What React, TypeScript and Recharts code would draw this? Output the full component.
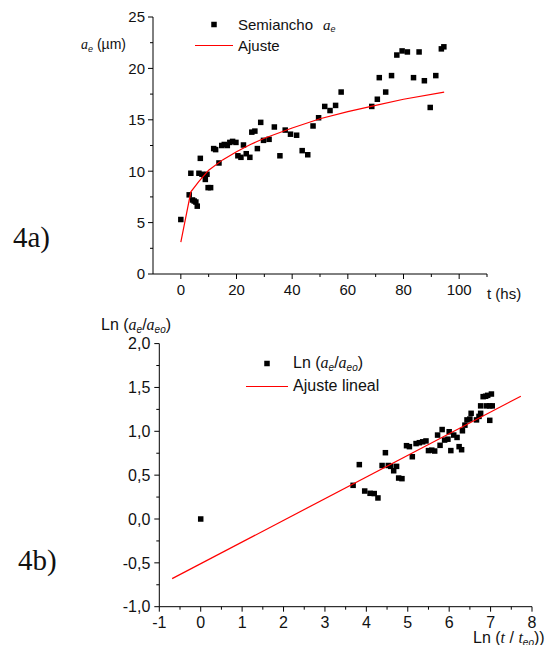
import { ScatterChart, Scatter, XAxis, YAxis, Legend } from "recharts";

// 4a) half-width vs time
const hours = [
  0, 3.0, 3.6, 4.2, 4.8, 5.4, 5.9, 6.5, 7.0, 7.6, 8.4, 8.8, 9.4, 9.8, 10.7, 11.8, 12.5, 13.7, 14.7, 15.6,
  16.7, 17.6, 18.6, 19.8, 20.5, 21.6, 22.5, 23.5, 24.8, 25.5, 26.6, 27.5, 28.7, 29.7, 31.7, 33.6, 35.6,
  37.5, 39.4, 41.6, 43.6, 45.6, 47.5, 49.5, 51.7, 53.6, 55.6, 57.6, 68.6, 70.6, 71.3, 73.6, 75.7, 77.6,
  79.5, 81.4, 83.6, 85.6, 87.5, 89.6, 91.6, 93.6, 94.5,
];
const halfWidth = [
  5.3, 7.7, 9.8, 7.2, 7.1, 7.0, 6.6, 9.8, 11.25, 9.7, 9.6, 9.2, 9.7, 8.4, 8.4, 12.2, 12.1, 10.8, 12.5, 12.6,
  12.5, 12.8, 12.9, 12.8, 11.5, 11.35, 12.55, 11.7, 11.35, 13.8, 13.9, 12.2, 14.75, 13.0, 13.1, 14.3, 11.5,
  14.0, 13.6, 13.5, 12.0, 11.6, 14.4, 15.2, 16.3, 15.9, 16.4, 17.7, 16.3, 17.0, 19.1, 17.7, 19.3, 21.3,
  21.7, 21.6, 19.1, 21.6, 18.8, 16.2, 19.3, 21.9, 22.1,
];
const fitHours = [0, 3.6, 6.5, 10, 15, 20, 25, 30, 40, 50, 60, 70, 80, 94.6];
const fitWidth = [3.1, 8.0, 9.0, 10.1, 11.1, 11.9, 12.6, 13.2, 14.2, 15.1, 15.8, 16.4, 17.0, 17.7];

// 4b) log-log
const lnTime = [
  0, 3.68, 3.83, 3.96, 4.09, 4.19, 4.28, 4.38, 4.46, 4.53, 4.59, 4.66, 4.73, 4.78, 4.86, 4.97, 5.04, 5.11,
  5.2, 5.28, 5.36, 5.44, 5.5, 5.58, 5.65, 5.72, 5.78, 5.83, 5.89, 5.97, 6.0, 6.04, 6.11, 6.19, 6.24, 6.3,
  6.32, 6.38, 6.43, 6.5, 6.53, 6.66, 6.72, 6.76, 6.76, 6.82, 6.88, 6.9, 6.93, 6.98, 6.98, 7.02, 7.04,
];
const lnRatio = [
  0, 0.384, 0.62, 0.319, 0.293, 0.29, 0.24, 0.61, 0.756, 0.61, 0.6, 0.55, 0.6, 0.467, 0.46, 0.836, 0.825, 0.71,
  0.86, 0.87, 0.88, 0.89, 0.78, 0.785, 0.775, 0.957, 0.84, 1.02, 0.9, 0.91, 0.995, 0.78, 0.957, 0.93, 0.825, 0.79,
  1.006, 1.07, 1.13, 1.14, 1.205, 1.13, 1.17, 1.205, 1.29, 1.395, 1.4, 1.29, 1.41, 1.29, 1.125, 1.425, 1.29,
];
const linearX = [-0.69, 7.73];
const linearY = [-0.68, 1.4];

const hourMajors = [0, 20, 40, 60, 80, 100];
const hourMinors = [10, 30, 50, 70, 90, 110];
const widthMajors = [0, 5, 10, 15, 20, 25];
const widthMinors = [2.5, 7.5, 12.5, 17.5, 22.5];
const lnTimeMajors = [-1, 0, 1, 2, 3, 4, 5, 6, 7, 8];
const lnTimeMinors = [-0.5, 0.5, 1.5, 2.5, 3.5, 4.5, 5.5, 6.5, 7.5];
const lnRatioMajors = [-1, -0.5, 0, 0.5, 1, 1.5, 2];
const lnRatioMinors = [-0.75, -0.25, 0.25, 0.75, 1.25, 1.75];

const scatterA = hours.map((t, i) => ({ x: t, y: halfWidth[i] }));
const fitA = fitHours.map((t, i) => ({ x: t, y: fitWidth[i] }));
const scatterB = lnTime.map((t, i) => ({ x: t, y: lnRatio[i] }));
const fitB = linearX.map((t, i) => ({ x: t, y: linearY[i] }));

const SANS = "'Liberation Sans', Arial, sans-serif";
const SERIF = "'Liberation Serif', 'Times New Roman', serif";
const RED = "#ff0000";

const Square = (props: any) => (
  <rect x={props.cx - 2.75} y={props.cy - 2.75} width={5.5} height={5.5} fill="#000" />
);
const NoDot = () => <g />;

const commaFmt = (v: number) => v.toFixed(1).replace(".", ",");

function makeXTick(majors: number[], fontSize: number, base: number, fmt: (v: number) => string) {
  return (props: any) => {
    const { x, y, payload } = props;
    const major = majors.includes(payload.value);
    return (
      <g>
        <line x1={x} y1={y} x2={x} y2={y + (major ? 5 : 3)} stroke="#000" />
        {major && (
          <text x={x} y={y + base} textAnchor="middle" fontSize={fontSize} fontFamily={SANS} fill="#111">
            {fmt(payload.value)}
          </text>
        )}
      </g>
    );
  };
}

function makeYTick(majors: number[], fontSize: number, gap: number, fmt: (v: number) => string) {
  return (props: any) => {
    const { x, y, payload } = props;
    const major = majors.includes(payload.value);
    return (
      <g>
        <line x1={x - (major ? 5 : 3)} y1={y} x2={x} y2={y} stroke="#000" />
        {major && (
          <text x={x - gap} y={y + fontSize * 0.36} textAnchor="end" fontSize={fontSize} fontFamily={SANS} fill="#111">
            {fmt(payload.value)}
          </text>
        )}
      </g>
    );
  };
}

const Sub = ({ children, size }: { children: any; size: number }) => (
  <span style={{ fontSize: size, position: "relative", top: "0.3em", fontStyle: "italic", fontFamily: SANS }}>
    {children}
  </span>
);
const Ita = ({ children }: { children: any }) => (
  <span style={{ fontFamily: SERIF, fontStyle: "italic" }}>{children}</span>
);

type KeyRow = { kind: "dot" | "line"; label: any };

function makeKey(rows: KeyRow[], keyWidth: number, rowHeight: number, fontSize: number) {
  return () => (
    <div style={{ fontFamily: SANS, fontSize, color: "#111" }}>
      {rows.map((r, i) => (
        <div key={i} style={{ display: "flex", alignItems: "center", height: rowHeight, whiteSpace: "nowrap" }}>
          <svg width={keyWidth} height={rowHeight} style={{ marginRight: 5 }}>
            {r.kind === "dot" ? (
              <rect x={keyWidth / 2 - 2.75} y={rowHeight / 2 - 2.75} width={5.5} height={5.5} fill="#000" />
            ) : (
              <line x1={0} y1={rowHeight / 2} x2={keyWidth} y2={rowHeight / 2} stroke={RED} strokeWidth={1.2} />
            )}
          </svg>
          <span style={{ lineHeight: 1 }}>{r.label}</span>
        </div>
      ))}
    </div>
  );
}

const keyA = makeKey(
  [
    {
      kind: "dot",
      label: (
        <>
          Semiancho
          <span style={{ marginLeft: 10, fontSize: 15 }}>
            <Ita>a</Ita>
            <Sub size={9}>e</Sub>
          </span>
        </>
      ),
    },
    { kind: "line", label: "Ajuste" },
  ],
  38,
  21,
  15
);

const keyB = makeKey(
  [
    {
      kind: "dot",
      label: (
        <>
          Ln (<Ita>a</Ita>
          <Sub size={10}>e</Sub>/<Ita>a</Ita>
          <Sub size={10}>eo</Sub>)
        </>
      ),
    },
    { kind: "line", label: "Ajuste lineal" },
  ],
  42,
  23,
  16
);

const abs = (left: number, top: number, fontSize: number, family = SANS): any => ({
  position: "absolute",
  left,
  top,
  fontSize,
  fontFamily: family,
  lineHeight: 1,
  whiteSpace: "nowrap",
  color: "#111",
});

export default function App() {
  return (
    <div style={{ position: "absolute", left: 0, top: 0, width: 553, height: 645, background: "#fff", overflow: "hidden" }}>
      <div style={{ position: "absolute", left: 0, top: 0 }}>
        <ScatterChart width={553} height={300} margin={{ top: 17, right: 66, bottom: 0, left: 0 }}>
          <XAxis
            type="number"
            dataKey="x"
            domain={[-10, 110]}
            ticks={[...hourMajors, ...hourMinors].sort((a, b) => a - b)}
            interval={0}
            height={26}
            tickSize={0}
            tickMargin={0}
            tickLine={false}
            axisLine={{ stroke: "#000" }}
            tick={makeXTick(hourMajors, 15, 21, (v) => String(v))}
          />
          <YAxis
            type="number"
            dataKey="y"
            domain={[0, 25]}
            ticks={[...widthMajors, ...widthMinors].sort((a, b) => a - b)}
            interval={0}
            width={153}
            tickSize={0}
            tickMargin={0}
            tickLine={false}
            axisLine={{ stroke: "#000" }}
            tick={makeYTick(widthMajors, 15, 8, (v) => String(v))}
          />
          <Legend
            layout="vertical"
            align="center"
            verticalAlign="middle"
            content={keyA}
            wrapperStyle={{ left: 195, top: 14, width: "auto" }}
          />
          <Scatter data={scatterA} shape={Square} isAnimationActive={false} legendType="square" />
          <Scatter
            data={fitA}
            shape={NoDot}
            line={{ stroke: RED, strokeWidth: 1.2 }}
            lineType="joint"
            isAnimationActive={false}
          />
        </ScatterChart>
      </div>

      <div style={{ position: "absolute", left: 0, top: 320 }}>
        <ScatterChart width={553} height={325} margin={{ top: 23.6, right: 21, bottom: 0, left: 0 }}>
          <XAxis
            type="number"
            dataKey="x"
            domain={[-1, 8]}
            ticks={[...lnTimeMajors, ...lnTimeMinors].sort((a, b) => a - b)}
            interval={0}
            height={38.3}
            tickSize={0}
            tickMargin={0}
            tickLine={false}
            axisLine={{ stroke: "#000" }}
            tick={makeXTick(lnTimeMajors, 16, 21, (v) => String(v))}
          />
          <YAxis
            type="number"
            dataKey="y"
            domain={[-1, 2]}
            ticks={[...lnRatioMajors, ...lnRatioMinors].sort((a, b) => a - b)}
            interval={0}
            width={159.3}
            tickSize={0}
            tickMargin={0}
            tickLine={false}
            axisLine={{ stroke: "#000" }}
            tick={makeYTick(lnRatioMajors, 16, 9, commaFmt)}
          />
          <Legend
            layout="vertical"
            align="center"
            verticalAlign="middle"
            content={keyB}
            wrapperStyle={{ left: 246, top: 31.5, width: "auto" }}
          />
          <Scatter data={scatterB} shape={Square} isAnimationActive={false} />
          <Scatter
            data={fitB}
            shape={NoDot}
            line={{ stroke: RED, strokeWidth: 1.2 }}
            lineType="joint"
            isAnimationActive={false}
          />
        </ScatterChart>
      </div>

      <div style={abs(81, 37, 14)}>
        <Ita>a</Ita>
        <Sub size={9}>e</Sub> (µm)
      </div>
      <div style={abs(487, 286, 15)}>t (hs)</div>
      <div style={abs(13, 223, 29, SERIF)}>4a)</div>

      <div style={abs(101, 317, 16)}>
        Ln (<Ita>a</Ita>
        <Sub size={10}>e</Sub>/<Ita>a</Ita>
        <Sub size={10}>eo</Sub>)
      </div>
      <div style={abs(473, 630, 16)}>
        Ln (<Ita>t</Ita> / <Ita>t</Ita>
        <Sub size={10}>eo</Sub>))
      </div>
      <div style={abs(18, 546, 29, SERIF)}>4b)</div>
    </div>
  );
}
